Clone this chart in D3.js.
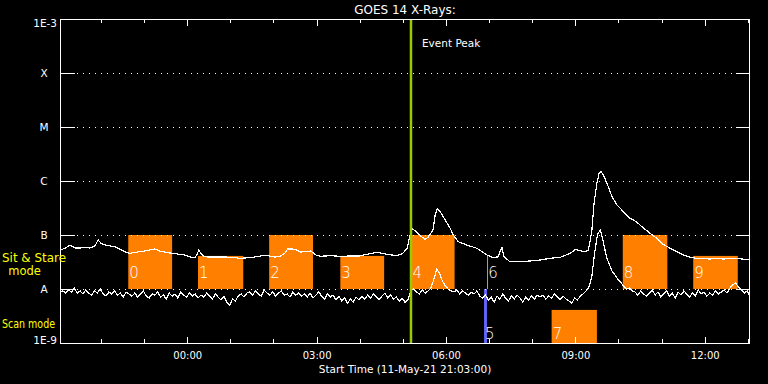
<!DOCTYPE html>
<meta charset="utf-8">
<html>
<head>
  <title>GOES 14 X-Rays</title>
  <script src="https://d3js.org/d3.v7.min.js"></script>
  <style>
    body { margin: 0; background: #000; }
    text { font-family: "DejaVu Sans", sans-serif; fill: #fff; }
  </style>
</head>
<body>
<div id="chart"></div>
<script type="text/javascript">

    // plot starts 11-May-21 21:03:00 UT and covers 16 hours
    var startTime = new Date(Date.UTC(2021, 4, 11, 21, 3, 0)),
        endTime = new Date(Date.UTC(2021, 4, 12, 13, 3, 0)),
        eventPeak = new Date(Date.UTC(2021, 4, 12, 5, 11, 20));

    // flare class levels on the y axis
    var classLevels = [1e-3, 1e-4, 1e-5, 1e-6, 1e-7, 1e-8, 1e-9];
    var classLabels = ["1E-3", "X", "M", "C", "B", "A", "1E-9"];

    // long channel (1-8 A): minutes after start, flux in W/m^2
    var longMin = [
        0, 7, 14, 21, 28, 35, 42, 49, 53, 57,
        63, 70, 77, 83, 90, 97, 104, 111, 118, 125,
        132, 139, 146, 153, 160, 167, 174, 181, 188, 191,
        193, 196, 199, 206, 216, 230, 243, 250, 257, 264,
        271, 281, 288, 299, 306, 313, 317, 323, 328, 334,
        341, 349, 356, 362, 376, 390, 403, 417, 427, 441,
        455, 469, 477, 483, 486, 489, 496, 503, 508, 512,
        519, 522, 525, 529, 536, 543, 547, 554, 566, 580,
        594, 603, 610, 612, 615, 616, 618, 626, 640, 654,
        668, 682, 696, 710, 717, 723, 728, 735, 737, 740,
        743, 747, 750, 753, 756, 761, 768, 775, 784, 793,
        802, 812, 821, 830, 839, 849, 858, 867, 877, 886,
        895, 904, 913, 923, 932, 941, 949, 955, 960];
    var longFlux = [
        5.28e-8, 5.67e-8, 6.53e-8, 5.75e-8, 5.75e-8, 5.87e-8, 5.75e-8, 6.34e-8, 8.18e-8, 7.02e-8,
        6.53e-8, 6.26e-8, 5.99e-8, 5.51e-8, 4.91e-8, 4.58e-8, 4.74e-8, 4.91e-8, 5.05e-8, 5.28e-8,
        5.51e-8, 5.05e-8, 4.84e-8, 4.64e-8, 4.54e-8, 4.35e-8, 4.26e-8, 3.91e-8, 3.83e-8, 4.45e-8,
        5.21e-8, 4.64e-8, 4.08e-8, 3.91e-8, 3.91e-8, 3.91e-8, 3.83e-8, 3.70e-8, 3.75e-8, 3.83e-8,
        3.91e-8, 4.14e-8, 4.17e-8, 3.91e-8, 4.00e-8, 4.64e-8, 5.51e-8, 5.51e-8, 5.39e-8, 4.84e-8,
        4.91e-8, 5.05e-8, 4.26e-8, 4.03e-8, 4.14e-8, 4.03e-8, 4.08e-8, 4.08e-8, 4.39e-8, 4.78e-8,
        4.39e-8, 4.14e-8, 4.58e-8, 5.67e-8, 8.69e-8, 1.33e-7, 1.15e-7, 9.30e-8, 8.33e-8, 9.07e-8,
        1.24e-7, 2.35e-7, 3.12e-7, 2.70e-7, 1.90e-7, 1.33e-7, 1.00e-7, 7.51e-8, 6.53e-8, 5.67e-8,
        4.26e-8, 3.80e-8, 3.96e-8, 4.84e-8, 5.82e-8, 4.84e-8, 3.96e-8, 3.20e-8, 3.20e-8, 3.30e-8,
        3.44e-8, 3.70e-8, 3.86e-8, 4.58e-8, 5.44e-8, 5.16e-8, 4.91e-8, 5.12e-8, 7.02e-8, 1.24e-7,
        3.86e-7, 9.07e-7, 1.39e-6, 1.49e-6, 1.29e-6, 9.07e-7, 5.12e-7, 3.59e-7, 2.70e-7, 2.04e-7,
        1.76e-7, 1.33e-7, 1.08e-7, 8.69e-8, 6.73e-8, 5.67e-8, 4.91e-8, 4.26e-8, 3.86e-8, 3.70e-8,
        3.67e-8, 3.59e-8, 3.67e-8, 3.59e-8, 3.67e-8, 3.70e-8, 3.59e-8, 3.55e-8, 3.44e-8];

    // short channel (0.5-4 A): one sample every 4 minutes from the start
    var shortCadence = 4;
    var shortFlux = [
        8.8e-9, 9.2e-9, 8.4e-9, 9.6e-9, 8.8e-9, 1.04e-8, 8.4e-9, 9.2e-9, 8.1e-9, 9.6e-9,
        8.4e-9, 7.7e-9, 9.2e-9, 8.4e-9, 1.0e-8, 8.1e-9, 7.4e-9, 8.8e-9, 8.1e-9, 9.2e-9,
        7.7e-9, 8.4e-9, 7.1e-9, 8.8e-9, 8.1e-9,
        7.4e-9, 8.4e-9, 7.1e-9, 8.1e-9, 9.2e-9, 7.4e-9, 6.8e-9, 8.1e-9, 7.7e-9, 8.8e-9,
        7.1e-9, 7.7e-9, 6.5e-9, 8.4e-9, 7.4e-9, 8.1e-9, 6.8e-9, 8.8e-9, 7.7e-9, 7.1e-9,
        8.4e-9, 7.4e-9, 8.1e-9, 6.8e-9,
        7.7e-9, 7.1e-9, 8.4e-9, 7.4e-9, 6.5e-9, 8.1e-9, 7.1e-9, 6.3e-9, 7.4e-9, 5.7e-9,
        5.0e-9, 6.5e-9, 6.0e-9, 7.4e-9, 8.1e-9, 7.1e-9, 8.4e-9,
        8.8e-9, 7.7e-9, 9.2e-9, 8.1e-9, 7.4e-9, 9.6e-9, 8.4e-9, 7.7e-9, 8.8e-9, 7.4e-9,
        8.4e-9, 9.2e-9, 7.7e-9, 8.1e-9, 7.1e-9, 8.8e-9, 7.7e-9, 8.4e-9,
        7.4e-9, 8.1e-9, 7.1e-9, 8.4e-9, 6.8e-9, 7.7e-9, 8.8e-9, 7.4e-9, 6.5e-9, 8.1e-9,
        7.1e-9, 7.7e-9, 6.3e-9, 7.4e-9,
        6.0e-9, 6.8e-9, 5.5e-9, 6.5e-9, 5.7e-9, 7.1e-9, 6.3e-9,
        7.4e-9, 6.5e-9, 7.7e-9, 6.8e-9, 8.1e-9, 7.1e-9, 6.3e-9, 7.4e-9, 8.4e-9, 6.8e-9,
        7.7e-9, 6.5e-9, 7.1e-9, 6.0e-9, 6.8e-9, 5.7e-9,
        6.3e-9, 9.2e-9, 1.0e-8, 8.8e-9,
        8.1e-9, 9.6e-9, 8.4e-9, 9.2e-9,
        1.04e-8, 1.47e-8, 2.35e-8, 1.98e-8, 1.41e-8, 1.14e-8, 1.0e-8, 9.2e-9,
        8.8e-9, 9.6e-9, 8.1e-9, 9.2e-9, 8.4e-9, 7.7e-9, 8.8e-9, 8.1e-9, 9.2e-9, 7.4e-9,
        6.8e-9, 7.7e-9, 6.3e-9, 7.1e-9, 5.7e-9, 7.4e-9, 6.5e-9, 8.1e-9, 6.8e-9, 6.0e-9,
        7.4e-9, 6.5e-9, 7.7e-9, 6.8e-9, 5.7e-9, 7.1e-9, 6.3e-9, 7.4e-9, 6.5e-9, 7.7e-9,
        7.1e-9, 7.7e-9, 6.5e-9, 7.4e-9, 6.8e-9, 8.1e-9, 7.1e-9, 6.3e-9, 7.4e-9, 6.5e-9,
        6.0e-9, 5.5e-9, 6.8e-9, 6.3e-9, 7.4e-9,
        8.1e-9, 9.2e-9, 1.09e-8, 1.74e-8, 4.84e-8, 1.04e-7, 1.24e-7, 7.4e-8, 4.08e-8, 2.91e-8,
        2.16e-8, 1.82e-8, 1.53e-8, 1.35e-8, 1.14e-8, 1.0e-8, 1.04e-8, 9.2e-9,
        8.8e-9, 7.7e-9, 9.2e-9, 8.1e-9, 7.4e-9, 8.4e-9, 9.6e-9, 7.7e-9, 8.8e-9, 7.1e-9,
        8.1e-9, 9.2e-9, 7.4e-9, 8.4e-9, 6.8e-9, 8.8e-9, 7.7e-9, 9.2e-9, 8.1e-9, 7.1e-9,
        8.4e-9, 7.4e-9, 9.6e-9, 8.1e-9, 8.8e-9, 7.4e-9, 8.4e-9, 7.7e-9, 9.2e-9,
        8.1e-9, 8.8e-9, 9.6e-9, 8.4e-9, 1.04e-8, 1.19e-8, 1.29e-8, 1.09e-8, 9.6e-9, 8.4e-9,
        9.2e-9, 7.1e-9];

    // observation boxes: minutes after start and flux range
    var boxLabels = ["0", "1", "2", "3", "4", "5", "6", "7", "8", "9"];
    var boxStart = [95, 192, 291, 390, 489, 590, 594.5, 684, 783, 881];
    var boxEnd = [156, 255, 352, 451, 549, 594, 595.5, 747, 845, 943];
    var boxLow = [1e-8, 1e-8, 1e-8, 1e-8, 1e-8, 1e-9, 1e-8, 1e-9, 1e-8, 1e-8];
    var boxHigh = [1e-7, 4.1e-8, 1e-7, 4.1e-8, 1e-7, 1e-8, 4.1e-8, 4.1e-9, 1e-7, 4.1e-8];
    var boxColor = ["#ff8000", "#ff8000", "#ff8000", "#ff8000", "#ff8000",
                    "#6464ff", "#ffff00", "#ff8000", "#ff8000", "#ff8000"];

    var margin = {top: 19, right: 18, bottom: 41, left: 60},
        total_width = 768,
        total_height = 384,
        width = total_width - margin.left - margin.right,
        height = total_height - margin.top - margin.bottom;

    function minToDate(m) { return new Date(startTime.getTime() + m * 60000); }

    var svg = d3.select("#chart").append("svg")
        .attr("width", total_width)
        .attr("height", total_height)
        .style("display", "block")
        .style("background", "#000");

    var g = svg.append("g")
        .attr("transform", "translate(" + margin.left + "," + margin.top + ")");

    var x = d3.scaleUtc().domain([startTime, endTime]).range([0, width]);
    var y = d3.scaleLog().domain([1e-9, 1e-3]).range([height, 0]);

    // boxes
    var boxes = boxLabels.map(function(d, i) {
        return {label: d, t0: minToDate(boxStart[i]), t1: minToDate(boxEnd[i]),
                lo: boxLow[i], hi: boxHigh[i], color: boxColor[i]};
    });

    g.append("g").selectAll("rect")
        .data(boxes)
        .enter().append("rect")
        .attr("x", function(d) { return x(d.t0); })
        .attr("y", function(d) { return y(d.hi); })
        .attr("width", function(d) { return x(d.t1) - x(d.t0); })
        .attr("height", function(d) { return y(d.lo) - y(d.hi); })
        .style("fill", function(d) { return d.color; });

    g.append("g").selectAll("text")
        .data(boxes)
        .enter().append("text")
        .attr("x", function(d) { return x(d.t0) + 1; })
        .attr("y", function(d) { return d.lo < 5e-9 ? y(d.lo) - 4.5 : y(d.lo) - 11; })
        .style("font-size", "15px")
        .style("font-weight", "300")
        .text(function(d) { return d.label; });

    // dotted class lines and inside ticks
    var grid = g.append("g").attr("shape-rendering", "crispEdges");
    grid.selectAll(".dot")
        .data(classLevels.slice(1, 6))
        .enter().append("line")
        .attr("x1", 17).attr("x2", width - 14)
        .attr("y1", function(d) { return Math.round(y(d)) + 0.5; })
        .attr("y2", function(d) { return Math.round(y(d)) + 0.5; })
        .attr("stroke", "#fff")
        .attr("stroke-dasharray", "1,5");
    grid.selectAll(".tl")
        .data(classLevels)
        .enter().append("line")
        .attr("x1", 0).attr("x2", 15)
        .attr("y1", function(d) { return Math.round(y(d)) + 0.5; })
        .attr("y2", function(d) { return Math.round(y(d)) + 0.5; })
        .attr("stroke", "#fff");
    grid.selectAll(".tr")
        .data(classLevels)
        .enter().append("line")
        .attr("x1", width - 14).attr("x2", width)
        .attr("y1", function(d) { return Math.round(y(d)) + 0.5; })
        .attr("y2", function(d) { return Math.round(y(d)) + 0.5; })
        .attr("stroke", "#fff");

    // time axes, ticks pointing inwards
    function styleAxis(sel) {
        sel.select(".domain").remove();
        sel.selectAll("line").attr("stroke", "#fff");
        sel.attr("shape-rendering", "crispEdges");
    }
    g.append("g").attr("transform", "translate(0," + height + ")")
        .call(d3.axisBottom(x).ticks(d3.utcHour.every(1)).tickSize(-4).tickFormat(""))
        .call(styleAxis);
    g.append("g")
        .call(d3.axisTop(x).ticks(d3.utcHour.every(1)).tickSize(-4).tickFormat(""))
        .call(styleAxis);
    g.append("g")
        .call(d3.axisTop(x).ticks(d3.utcHour.every(3)).tickSize(-7).tickFormat(""))
        .call(styleAxis);
    var xAxis = g.append("g").attr("transform", "translate(0," + height + ")")
        .call(d3.axisBottom(x).ticks(d3.utcHour.every(3)).tickSize(-6).tickFormat(d3.utcFormat("%H:%M")))
        .call(styleAxis);
    xAxis.selectAll("text")
        .attr("y", 16).attr("dy", null)
        .attr("fill", null)
        .style("font-size", "10px")
        .style("font-family", "DejaVu Sans, sans-serif");

    // curves, drawn aliased like the original plot
    var line = d3.line()
        .x(function(d) { return x(d.t); })
        .y(function(d) { return y(d.f); });

    var longData = longMin.map(function(m, i) { return {t: minToDate(m), f: longFlux[i]}; });
    var shortData = shortFlux.map(function(f, i) { return {t: minToDate(i * shortCadence), f: f}; });

    g.append("path")
        .attr("d", line(longData))
        .attr("fill", "none").attr("stroke", "#fff").attr("stroke-width", 1.2)
        .attr("shape-rendering", "crispEdges");
    g.append("path")
        .attr("d", line(shortData))
        .attr("fill", "none").attr("stroke", "#fff").attr("stroke-width", 1.2)
        .attr("shape-rendering", "crispEdges");

    // event peak marker
    g.append("line")
        .attr("x1", x(eventPeak)).attr("x2", x(eventPeak))
        .attr("y1", 0).attr("y2", height)
        .attr("stroke", "#99cc00").attr("stroke-width", 2.5);
    g.append("text")
        .attr("x", x(eventPeak) + 11).attr("y", 27.5)
        .style("font-size", "10.5px")
        .text("Event Peak");

    // plot frame
    g.append("rect")
        .attr("x", 0.5).attr("y", 0.5)
        .attr("width", width - 1).attr("height", height)
        .attr("fill", "none").attr("stroke", "#fff")
        .attr("shape-rendering", "crispEdges");

    // y labels
    svg.append("g").selectAll("text")
        .data(classLabels)
        .enter().append("text")
        .attr("x", function(d) { return d.length > 1 ? 57 : 44; })
        .attr("y", function(d, i) {
            var yy = margin.top + y(classLevels[i]);
            if (i == 0) return yy + 8;
            if (i == classLabels.length - 1) return yy + 1;
            return yy + 4;
        })
        .attr("text-anchor", function(d) { return d.length > 1 ? "end" : "middle"; })
        .style("font-size", "10.5px")
        .text(function(d) { return d; });

    // mode labels
    svg.append("text").attr("x", 2).attr("y", 261.5)
        .attr("textLength", 64).attr("lengthAdjust", "spacingAndGlyphs")
        .style("font-size", "11.5px").style("fill", "#ffff00")
        .text("Sit & Stare");
    svg.append("text").attr("x", 24.5).attr("y", 275).attr("text-anchor", "middle")
        .style("font-size", "11.5px").style("fill", "#ffff00")
        .text("mode");
    svg.append("text").attr("x", 2).attr("y", 327.5)
        .attr("textLength", 53).attr("lengthAdjust", "spacingAndGlyphs")
        .style("font-size", "11.5px").style("fill", "#ffff00")
        .text("Scan mode");

    // titles
    svg.append("text")
        .attr("x", margin.left + width / 2).attr("y", 14)
        .attr("text-anchor", "middle")
        .style("font-size", "12px")
        .text("GOES 14 X-Rays:");
    svg.append("text")
        .attr("x", margin.left + width / 2).attr("y", 372.5)
        .attr("text-anchor", "middle")
        .style("font-size", "10.5px")
        .text("Start Time (11-May-21 21:03:00)");
</script>
</body>
</html>
